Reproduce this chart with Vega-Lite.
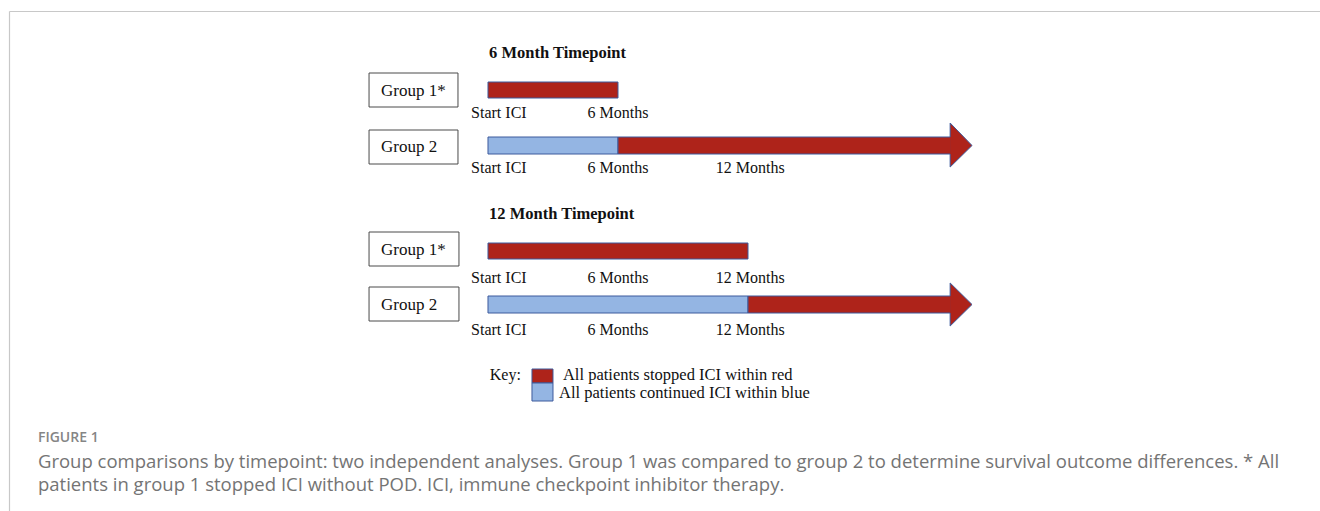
{
  "$schema": "https://vega.github.io/schema/vega-lite/v6.json",
  "autosize": {"type": "fit", "contains": "padding"},
  "width": 1320,
  "height": 511,
  "padding": {"left": 9, "top": 11, "right": 0, "bottom": 0},
  "background": "white",
  "config": {"view": {"stroke": null}},
  "datasets": {
    "boxes": [
      {"section": "6 Month", "group": "Group 1*", "x": -5.49, "x2": -1.385, "y": 6.2, "y2": 9.6},
      {"section": "6 Month", "group": "Group 2", "x": -5.49, "x2": -1.385, "y": 11.9, "y2": 15.3},
      {"section": "12 Month", "group": "Group 1*", "x": -5.49, "x2": -1.34, "y": 22.1, "y2": 25.5},
      {"section": "12 Month", "group": "Group 2", "x": -5.49, "x2": -1.34, "y": 27.6, "y2": 31.0}
    ],
    "segments": [
      {"section": "6 Month", "group": "Group 1*", "status": "stopped", "x": 0, "x2": 6, "y": 7.1, "y2": 8.7},
      {"section": "6 Month", "group": "Group 2", "status": "continued", "x": 0, "x2": 6, "y": 12.6, "y2": 14.3},
      {"section": "6 Month", "group": "Group 2", "status": "stopped", "x": 6, "x2": 21.37, "y": 12.6, "y2": 14.3},
      {"section": "12 Month", "group": "Group 1*", "status": "stopped", "x": 0, "x2": 12, "y": 23.2, "y2": 24.8},
      {"section": "12 Month", "group": "Group 2", "status": "continued", "x": 0, "x2": 12, "y": 28.5, "y2": 30.2},
      {"section": "12 Month", "group": "Group 2", "status": "stopped", "x": 12, "x2": 21.37, "y": 28.5, "y2": 30.2},
      {"section": "Key", "group": "key", "status": "stopped", "x": 2.03, "x2": 3.0, "y": 35.8, "y2": 37.2},
      {"section": "Key", "group": "key", "status": "continued", "x": 2.03, "x2": 3.0, "y": 37.2, "y2": 39.0}
    ],
    "heads": [
      {"arrow": "6 Month", "x": 21.33, "y": 11.2, "y2": 15.6},
      {"arrow": "6 Month", "x": 22.34, "y": 13.45, "y2": 13.45},
      {"arrow": "12 Month", "x": 21.33, "y": 27.2, "y2": 31.5},
      {"arrow": "12 Month", "x": 22.34, "y": 29.35, "y2": 29.35}
    ],
    "outline": [
      {"arrow": "6 Month", "k": 1, "x": 21.33, "y": 12.6},
      {"arrow": "6 Month", "k": 2, "x": 21.33, "y": 11.2},
      {"arrow": "6 Month", "k": 3, "x": 22.34, "y": 13.45},
      {"arrow": "6 Month", "k": 4, "x": 21.33, "y": 15.6},
      {"arrow": "6 Month", "k": 5, "x": 21.33, "y": 14.3},
      {"arrow": "12 Month", "k": 1, "x": 21.33, "y": 28.5},
      {"arrow": "12 Month", "k": 2, "x": 21.33, "y": 27.2},
      {"arrow": "12 Month", "k": 3, "x": 22.34, "y": 29.35},
      {"arrow": "12 Month", "k": 4, "x": 21.33, "y": 31.5},
      {"arrow": "12 Month", "k": 5, "x": 21.33, "y": 30.2}
    ],
    "groupText": [
      {"label": "Group 1*", "x": -4.94, "y": 8.0},
      {"label": "Group 2", "x": -4.94, "y": 13.6},
      {"label": "Group 1*", "x": -4.94, "y": 23.9},
      {"label": "Group 2", "x": -4.94, "y": 29.4}
    ],
    "leftText": [
      {"label": "Start ICI", "x": -0.78, "y": 10.2},
      {"label": "Start ICI", "x": -0.78, "y": 15.7},
      {"label": "Start ICI", "x": -0.78, "y": 26.7},
      {"label": "Start ICI", "x": -0.78, "y": 31.9}
    ],
    "keyText": [
      {"label": "All patients stopped ICI within red", "x": 3.46, "y": 36.4},
      {"label": "All patients continued ICI within blue", "x": 3.28, "y": 38.2}
    ],
    "centerText": [
      {"label": "6 Months", "x": 6.0, "y": 10.2},
      {"label": "6 Months", "x": 6.0, "y": 15.7},
      {"label": "12 Months", "x": 12.1, "y": 15.7},
      {"label": "6 Months", "x": 6.0, "y": 26.7},
      {"label": "12 Months", "x": 12.1, "y": 26.7},
      {"label": "6 Months", "x": 6.0, "y": 31.9},
      {"label": "12 Months", "x": 12.1, "y": 31.9}
    ],
    "rightText": [
      {"label": "Key:", "x": 1.52, "y": 36.4}
    ],
    "titles": [
      {"label": "6 Month Timepoint", "x": 0.05, "y": 4.2},
      {"label": "12 Month Timepoint", "x": 0.05, "y": 20.3}
    ],
    "figure": [
      {"label": "FIGURE 1", "x": -20.77, "y": 42.7}
    ],
    "caption": [
      {"label": "Group comparisons by timepoint: two independent analyses. Group 1 was compared to group 2 to determine survival outcome differences. * All", "x": -20.77, "y": 45.1},
      {"label": "patients in group 1 stopped ICI without POD. ICI, immune checkpoint inhibitor therapy.", "x": -20.77, "y": 47.4}
    ]
  },
  "encoding": {
    "x": {
      "field": "x", "type": "quantitative",
      "scale": {"domain": [-22.107, 38.4], "nice": false, "zero": false},
      "axis": {"orient": "top", "labels": false, "ticks": false, "grid": false, "title": null, "domainColor": "#c8c8c8", "domainWidth": 1.2}
    },
    "y": {
      "field": "y", "type": "quantitative",
      "scale": {"domain": [0, 50], "nice": false, "zero": false, "reverse": true},
      "axis": {"orient": "left", "labels": false, "ticks": false, "grid": false, "title": null, "domainColor": "#c8c8c8", "domainWidth": 1.2}
    }
  },
  "layer": [
    {
      "data": {"name": "boxes"},
      "mark": {"type": "rect", "fill": "white", "stroke": "#4a4a4a", "strokeWidth": 1},
      "encoding": {"x2": {"field": "x2"}, "y2": {"field": "y2"}}
    },
    {
      "data": {"name": "segments"},
      "mark": {"type": "rect", "stroke": "#3d5a9c", "strokeWidth": 1},
      "encoding": {
        "x2": {"field": "x2"}, "y2": {"field": "y2"},
        "color": {"field": "status", "type": "nominal", "scale": {"domain": ["stopped", "continued"], "range": ["#ae231a", "#94b5e3"]}, "legend": null}
      }
    },
    {
      "data": {"name": "heads"},
      "mark": {"type": "area", "color": "#ae231a", "interpolate": "linear"},
      "encoding": {"y2": {"field": "y2"}, "detail": {"field": "arrow"}}
    },
    {
      "data": {"name": "outline"},
      "mark": {"type": "line", "color": "#3d5a9c", "strokeWidth": 1},
      "encoding": {"order": {"field": "k"}, "detail": {"field": "arrow"}}
    },
    {
      "data": {"name": "groupText"},
      "mark": {"type": "text", "align": "left", "baseline": "middle", "font": "Liberation Serif", "fontSize": 17, "color": "#111"},
      "encoding": {"text": {"field": "label"}}
    },
    {
      "data": {"name": "leftText"},
      "mark": {"type": "text", "align": "left", "baseline": "middle", "font": "Liberation Serif", "fontSize": 16, "color": "#111"},
      "encoding": {"text": {"field": "label"}}
    },
    {
      "data": {"name": "keyText"},
      "mark": {"type": "text", "align": "left", "baseline": "middle", "font": "Liberation Serif", "fontSize": 16.5, "color": "#111"},
      "encoding": {"text": {"field": "label"}}
    },
    {
      "data": {"name": "centerText"},
      "mark": {"type": "text", "align": "center", "baseline": "middle", "font": "Liberation Serif", "fontSize": 16, "color": "#111"},
      "encoding": {"text": {"field": "label"}}
    },
    {
      "data": {"name": "rightText"},
      "mark": {"type": "text", "align": "right", "baseline": "middle", "font": "Liberation Serif", "fontSize": 16, "color": "#111"},
      "encoding": {"text": {"field": "label"}}
    },
    {
      "data": {"name": "titles"},
      "mark": {"type": "text", "align": "left", "baseline": "middle", "font": "Liberation Serif", "fontSize": 16.5, "fontWeight": "bold", "color": "#111"},
      "encoding": {"text": {"field": "label"}}
    },
    {
      "data": {"name": "figure"},
      "mark": {"type": "text", "align": "left", "baseline": "middle", "font": "Open Sans", "fontSize": 14, "fontWeight": 600, "color": "#858585"},
      "encoding": {"text": {"field": "label"}}
    },
    {
      "data": {"name": "caption"},
      "mark": {"type": "text", "align": "left", "baseline": "middle", "font": "Open Sans", "fontSize": 18.5, "color": "#747474"},
      "encoding": {"text": {"field": "label"}}
    }
  ]
}
